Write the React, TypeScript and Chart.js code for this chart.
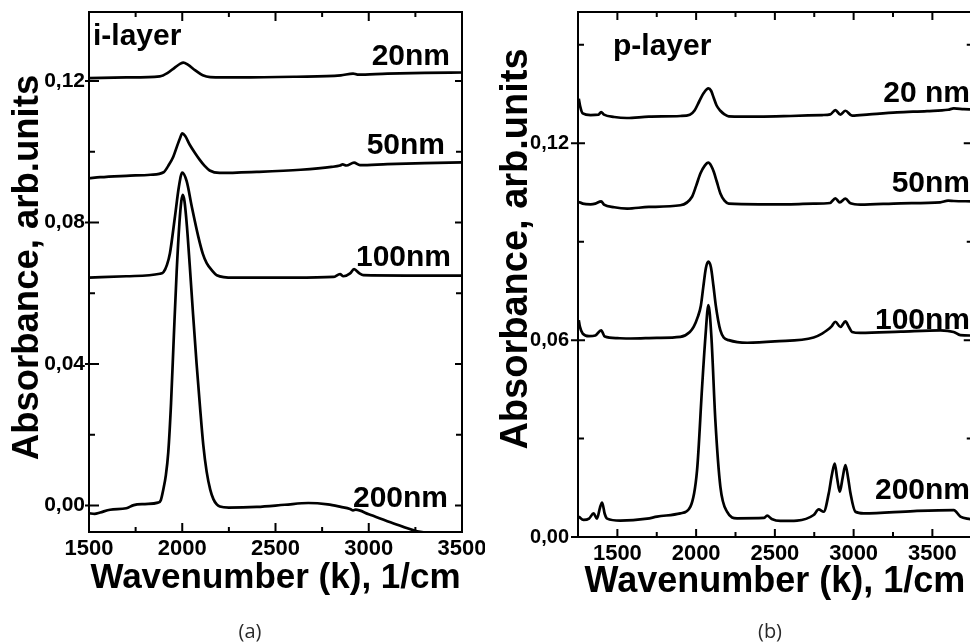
import React, { useEffect, useRef } from 'react';
import { Chart, registerables } from 'chart.js';

Chart.register(...registerables);

// ---------- Panel (a): i-layer ----------
const wnA20 = [1500, 1700, 1880, 1920, 1960, 1990, 2006, 2030, 2070, 2110, 2150, 2300, 2600, 2850, 2916, 2940, 3100, 3300, 3500];
const absA20 = [0.1208, 0.121, 0.1213, 0.1222, 0.1238, 0.1249, 0.1252, 0.1246, 0.123, 0.1216, 0.1211, 0.121, 0.1212, 0.1216, 0.1221, 0.1218, 0.1221, 0.1223, 0.1224];

const wnA50 = [1500, 1560, 1700, 1830, 1900, 1925, 1952, 1975, 1988, 2000, 2015, 2041, 2070, 2094, 2120, 2147, 2200, 2400, 2635, 2800, 2846, 2860, 2880, 2921, 2953, 3100, 3300, 3500];
const absA50 = [0.0925, 0.0928, 0.0932, 0.0935, 0.0942, 0.096, 0.0986, 0.102, 0.1038, 0.1052, 0.1045, 0.1019, 0.0995, 0.0977, 0.096, 0.0947, 0.094, 0.0943, 0.0949, 0.0957, 0.0961, 0.0964, 0.0961, 0.0969, 0.0962, 0.0965, 0.0968, 0.097];

const wnA100 = [1500, 1700, 1880, 1900, 1918, 1934, 1961, 1982, 2000, 2024, 2051, 2086, 2110, 2131, 2160, 2185, 2274, 2600, 2810, 2846, 2864, 2900, 2921, 2950, 2971, 3200, 3500];
const absA100 = [0.0644, 0.0648, 0.0655, 0.066, 0.068, 0.0713, 0.0817, 0.0901, 0.0941, 0.0916, 0.0845, 0.076, 0.0712, 0.0685, 0.0664, 0.0651, 0.0644, 0.0644, 0.0646, 0.0654, 0.0648, 0.0656, 0.0668, 0.0656, 0.0651, 0.065, 0.065];

const wnA200 = [1500, 1530, 1560, 1613, 1700, 1740, 1800, 1870, 1885, 1898, 1912, 1925, 1940, 1955, 1970, 1985, 1995, 2003, 2012, 2025, 2040, 2058, 2077, 2095, 2113, 2131, 2150, 2167, 2185, 2202, 2250, 2400, 2550, 2676, 2780, 2850, 2900, 2916, 2930, 3000, 3130, 3259, 3346, 3400];
const absA200 = [-0.0022, -0.0024, -0.002, -0.0012, -0.0008, 0.0001, 0.0004, 0.0008, 0.0015, 0.0044, 0.0085, 0.015, 0.029, 0.048, 0.066, 0.08, 0.086, 0.0878, 0.086, 0.079, 0.068, 0.054, 0.04, 0.028, 0.017, 0.0095, 0.0045, 0.0018, 0.0003, -0.0003, -0.0006, -0.0004, 0.0002, 0.0007, 0.0003, -0.0004, -0.001, -0.0014, -0.0012, -0.0025, -0.005, -0.0073, -0.008, -0.009];

const xTicksA = [1500, 2000, 2500, 3000, 3500];
const xMinorA = [1750, 2250, 2750, 3250];
const yTicksA = [0, 0.04, 0.08, 0.12];
const yMinorA = [0.02, 0.06, 0.1];

// ---------- Panel (b): p-layer ----------
const wnB20 = [1255, 1265, 1280, 1330, 1380, 1397, 1415, 1480, 1560, 1700, 1900, 1960, 1990, 2020, 2048, 2078, 2095, 2112, 2130, 2154, 2180, 2207, 2400, 2600, 2800, 2852, 2884, 2916, 2948, 2990, 3100, 3276, 3466, 3600, 3636, 3700, 3750];
const absB20 = [0.1336, 0.131, 0.1291, 0.1286, 0.1287, 0.1295, 0.1287, 0.128, 0.1277, 0.1281, 0.1283, 0.1287, 0.13, 0.1328, 0.1353, 0.1367, 0.136, 0.1338, 0.1315, 0.1299, 0.1288, 0.1282, 0.1281, 0.1283, 0.1286, 0.1288, 0.1301, 0.1287, 0.1299, 0.1284, 0.1288, 0.1294, 0.1298, 0.1302, 0.1306, 0.1304, 0.1303];

const wnB50 = [1255, 1280, 1330, 1360, 1397, 1415, 1480, 1562, 1700, 1900, 1974, 2000, 2027, 2055, 2078, 2095, 2112, 2130, 2154, 2180, 2207, 2400, 2600, 2746, 2850, 2884, 2912, 2948, 2980, 3043, 3300, 3550, 3600, 3636, 3750];
const absB50 = [0.1021, 0.1016, 0.1014, 0.1016, 0.1023, 0.1013, 0.1005, 0.1001, 0.1006, 0.1011, 0.1037, 0.107, 0.1108, 0.1132, 0.1141, 0.1132, 0.1113, 0.1085, 0.1047, 0.1025, 0.1016, 0.1014, 0.1014, 0.1016, 0.1018, 0.1032, 0.102, 0.1031, 0.1017, 0.1013, 0.1017, 0.102, 0.1025, 0.1024, 0.1023];

const wnB100 = [1255, 1262, 1280, 1320, 1360, 1397, 1420, 1500, 1583, 1750, 1900, 1960, 1985, 2010, 2030, 2045, 2062, 2078, 2094, 2110, 2125, 2140, 2154, 2175, 2207, 2324, 2500, 2746, 2800, 2831, 2860, 2884, 2916, 2948, 2970, 2990, 3043, 3300, 3551, 3635, 3678, 3750];
const absB100 = [0.0661, 0.0641, 0.062, 0.0612, 0.0614, 0.063, 0.0611, 0.0606, 0.0605, 0.0607, 0.061, 0.0625, 0.0641, 0.067, 0.0705, 0.076, 0.082, 0.0839, 0.0822, 0.0765, 0.0705, 0.066, 0.063, 0.0608, 0.06, 0.0592, 0.0596, 0.0608, 0.062, 0.063, 0.0642, 0.0656, 0.064, 0.0657, 0.064, 0.0625, 0.0622, 0.0626, 0.063, 0.0625, 0.0615, 0.0614];

const wnB200 = [1255, 1285, 1320, 1349, 1370, 1390, 1403, 1420, 1435, 1519, 1689, 1752, 1900, 1963, 2006, 2038, 2059, 2078, 2097, 2122, 2154, 2196, 2260, 2430, 2451, 2480, 2535, 2641, 2746, 2778, 2810, 2842, 2862, 2880, 2895, 2912, 2930, 2948, 2965, 2980, 3011, 3064, 3382, 3636, 3678, 3741];
const absB200 = [0.0062, 0.0052, 0.0056, 0.0072, 0.0056, 0.009, 0.0105, 0.007, 0.0056, 0.005, 0.0056, 0.0062, 0.0072, 0.0092, 0.0204, 0.0458, 0.061, 0.0707, 0.061, 0.0356, 0.0153, 0.0077, 0.0057, 0.0058, 0.0065, 0.0055, 0.0049, 0.005, 0.0067, 0.0084, 0.0077, 0.0133, 0.019, 0.0224, 0.018, 0.0138, 0.018, 0.0219, 0.018, 0.0133, 0.0077, 0.0072, 0.0079, 0.0082, 0.0062, 0.0054];

const xTicksB = [1500, 2000, 2500, 3000, 3500];
const xMinorB = [1750, 2250, 2750, 3250];
const yTicksB = [0, 0.06, 0.12];
const yMinorB = [0.03, 0.09, 0.15];

const FONT = '"Liberation Sans", Arial, Helvetica, sans-serif';
const H = 643;

type Label = { text: string; x: number; y: number; align: CanvasTextAlign };

type PanelCfg = {
  left: number;
  width: number;
  area: { left: number; right: number; top: number; bottom: number };
  xMin: number; xMax: number; yMin: number; yMax: number;
  series: { wn: number[]; abs: number[] }[];
  xTicks: number[]; xMinor: number[]; yTicks: number[]; yMinor: number[];
  xTitleSize: number; xTitlePad: number;
  yTickSize: number; yTickPad: number;
  yTitleSize: number; yTitleX: number; yTitleY: number;
  tickIn: { xMaj: number; xMin: number; yMajIn: number; yMajOut: number; yMin: number; rMaj: number; rMin: number };
  labels: Label[];
  letter: { text: string; x: number; y: number };
};

const panelA: PanelCfg = {
  left: 0,
  width: 485,
  area: { left: 89, right: 462, top: 12, bottom: 532 },
  xMin: 1500, xMax: 3500, yMin: -0.0075, yMax: 0.1395,
  series: [
    { wn: wnA20, abs: absA20 },
    { wn: wnA50, abs: absA50 },
    { wn: wnA100, abs: absA100 },
    { wn: wnA200, abs: absA200 },
  ],
  xTicks: xTicksA, xMinor: xMinorA, yTicks: yTicksA, yMinor: yMinorA,
  xTitleSize: 35, xTitlePad: 44,
  yTickSize: 21, yTickPad: 4,
  yTitleSize: 36.5, yTitleX: 37.5, yTitleY: 267.5,
  tickIn: { xMaj: 9, xMin: 5, yMajIn: 10, yMajOut: 4, yMin: 6, rMaj: 7, rMin: 6 },
  labels: [
    { text: 'i-layer', x: 93, y: 45, align: 'left' },
    { text: '20nm', x: 450, y: 65, align: 'right' },
    { text: '50nm', x: 445, y: 154, align: 'right' },
    { text: '100nm', x: 451, y: 266, align: 'right' },
    { text: '200nm', x: 448, y: 507, align: 'right' },
  ],
  letter: { text: '(a)', x: 250, y: 632 },
};

const panelB: PanelCfg = {
  left: 485,
  width: 500,
  area: { left: 93, right: 486.75, top: 12, bottom: 537 },
  xMin: 1250, xMax: 3750, yMin: 0, yMax: 0.16,
  series: [
    { wn: wnB20, abs: absB20 },
    { wn: wnB50, abs: absB50 },
    { wn: wnB100, abs: absB100 },
    { wn: wnB200, abs: absB200 },
  ],
  xTicks: xTicksB, xMinor: xMinorB, yTicks: yTicksB, yMinor: yMinorB,
  xTitleSize: 36, xTitlePad: 39,
  yTickSize: 20, yTickPad: 9,
  yTitleSize: 38, yTitleX: 41.7, yTitleY: 249,
  tickIn: { xMaj: 8, xMin: 5, yMajIn: 7, yMajOut: 7, yMin: 6, rMaj: 8, rMin: 5 },
  labels: [
    { text: 'p-layer', x: 128, y: 55, align: 'left' },
    { text: '20 nm', x: 485, y: 102, align: 'right' },
    { text: '50nm', x: 485, y: 192, align: 'right' },
    { text: '100nm', x: 485, y: 329, align: 'right' },
    { text: '200nm', x: 485, y: 499, align: 'right' },
  ],
  letter: { text: '(b)', x: 285, y: 632 },
};

function decorPlugin(cfg: PanelCfg) {
  return {
    id: 'decor',
    afterDraw(chart: any) {
      const ctx: CanvasRenderingContext2D = chart.ctx;
      const { left, right, top, bottom } = chart.chartArea;
      const xs = chart.scales.x;
      const ys = chart.scales.y;
      const t = cfg.tickIn;
      ctx.save();
      ctx.strokeStyle = '#000';
      ctx.lineWidth = 2;
      ctx.strokeRect(left, top, right - left, bottom - top);
      ctx.beginPath();
      for (const v of cfg.xTicks) {
        const p = xs.getPixelForValue(v);
        ctx.moveTo(p, bottom); ctx.lineTo(p, bottom - t.xMaj);
        ctx.moveTo(p, top); ctx.lineTo(p, top + t.xMaj);
      }
      for (const v of cfg.xMinor) {
        const p = xs.getPixelForValue(v);
        ctx.moveTo(p, bottom); ctx.lineTo(p, bottom - t.xMin);
        ctx.moveTo(p, top); ctx.lineTo(p, top + t.xMin);
      }
      for (const v of cfg.yTicks) {
        const p = ys.getPixelForValue(v);
        ctx.moveTo(left - t.yMajOut, p); ctx.lineTo(left + t.yMajIn, p);
        ctx.moveTo(right, p); ctx.lineTo(right - t.rMaj, p);
      }
      for (const v of cfg.yMinor) {
        const p = ys.getPixelForValue(v);
        ctx.moveTo(left, p); ctx.lineTo(left + t.yMin, p);
        ctx.moveTo(right, p); ctx.lineTo(right - t.rMin, p);
      }
      ctx.stroke();

      ctx.fillStyle = '#000';
      ctx.textBaseline = 'alphabetic';
      ctx.font = `bold 30px ${FONT}`;
      for (const l of cfg.labels) {
        ctx.textAlign = l.align;
        ctx.fillText(l.text, l.x, l.y);
      }

      ctx.save();
      ctx.translate(cfg.yTitleX, cfg.yTitleY);
      ctx.rotate(-Math.PI / 2);
      ctx.textAlign = 'center';
      ctx.font = `bold ${cfg.yTitleSize}px ${FONT}`;
      ctx.fillText('Absorbance, arb.units', 0, 0);
      ctx.restore();

      ctx.fillStyle = '#2a2a2a';
      ctx.font = '20px "Open Sans", "Noto Sans", sans-serif';
      ctx.textAlign = 'center';
      ctx.textBaseline = 'middle';
      ctx.fillText(cfg.letter.text, cfg.letter.x, cfg.letter.y);
      ctx.restore();
    },
  };
}

function buildConfig(cfg: PanelCfg): any {
  const fmtY = (v: any) => Number(v).toFixed(2).replace('.', ',');
  return {
    type: 'line',
    data: {
      datasets: cfg.series.map((s) => ({
        data: s.wn.map((x, i) => ({ x, y: s.abs[i] })),
        borderColor: '#000',
        borderWidth: 2.7,
        pointRadius: 0,
        fill: false,
        cubicInterpolationMode: 'monotone',
      })),
    },
    options: {
      responsive: false,
      maintainAspectRatio: false,
      animation: false,
      events: [],
      layout: {
        padding: { left: 0, top: cfg.area.top, right: cfg.width - cfg.area.right, bottom: 0 },
      },
      plugins: { legend: { display: false }, tooltip: { enabled: false } },
      scales: {
        x: {
          type: 'linear',
          min: cfg.xMin,
          max: cfg.xMax,
          grid: { display: false, drawTicks: false, tickLength: 0 },
          border: { display: false },
          afterBuildTicks: (s: any) => { s.ticks = cfg.xTicks.map((v) => ({ value: v })); },
          afterFit: (s: any) => { s.height = H - cfg.area.bottom; s.paddingLeft = 0; s.paddingRight = 0; },
          ticks: {
            autoSkip: false, maxRotation: 0, minRotation: 0, padding: 4, color: '#000',
            font: { family: FONT, size: 22, weight: 'bold' },
            callback: (v: any) => String(v),
          },
          title: {
            display: true, text: 'Wavenumber (k), 1/cm', color: '#000',
            font: { family: FONT, size: cfg.xTitleSize, weight: 'bold' },
            padding: { top: 0, bottom: cfg.xTitlePad },
          },
        },
        y: {
          type: 'linear',
          min: cfg.yMin,
          max: cfg.yMax,
          grid: { display: false, drawTicks: false, tickLength: 0 },
          border: { display: false },
          afterBuildTicks: (s: any) => { s.ticks = cfg.yTicks.map((v) => ({ value: v })); },
          afterFit: (s: any) => { s.width = cfg.area.left; s.paddingTop = 0; s.paddingBottom = 0; },
          ticks: {
            autoSkip: false, padding: cfg.yTickPad, color: '#000',
            font: { family: FONT, size: cfg.yTickSize, weight: 'bold' },
            callback: fmtY,
          },
        },
      },
    },
    plugins: [decorPlugin(cfg)],
  };
}

function Panel({ cfg }: { cfg: PanelCfg }) {
  const ref = useRef<HTMLCanvasElement>(null);
  useEffect(() => {
    const chart = new Chart(ref.current as HTMLCanvasElement, buildConfig(cfg));
    return () => chart.destroy();
  }, [cfg]);
  return (
    <canvas
      ref={ref}
      width={cfg.width}
      height={H}
      style={{ position: 'absolute', left: cfg.left, top: 0, width: cfg.width, height: H }}
    />
  );
}

export default function App() {
  return (
    <div
      style={{
        position: 'fixed', left: 0, top: 0, width: 970, height: H,
        overflow: 'hidden', background: '#fff',
      }}
    >
      <Panel cfg={panelA} />
      <Panel cfg={panelB} />
    </div>
  );
}
